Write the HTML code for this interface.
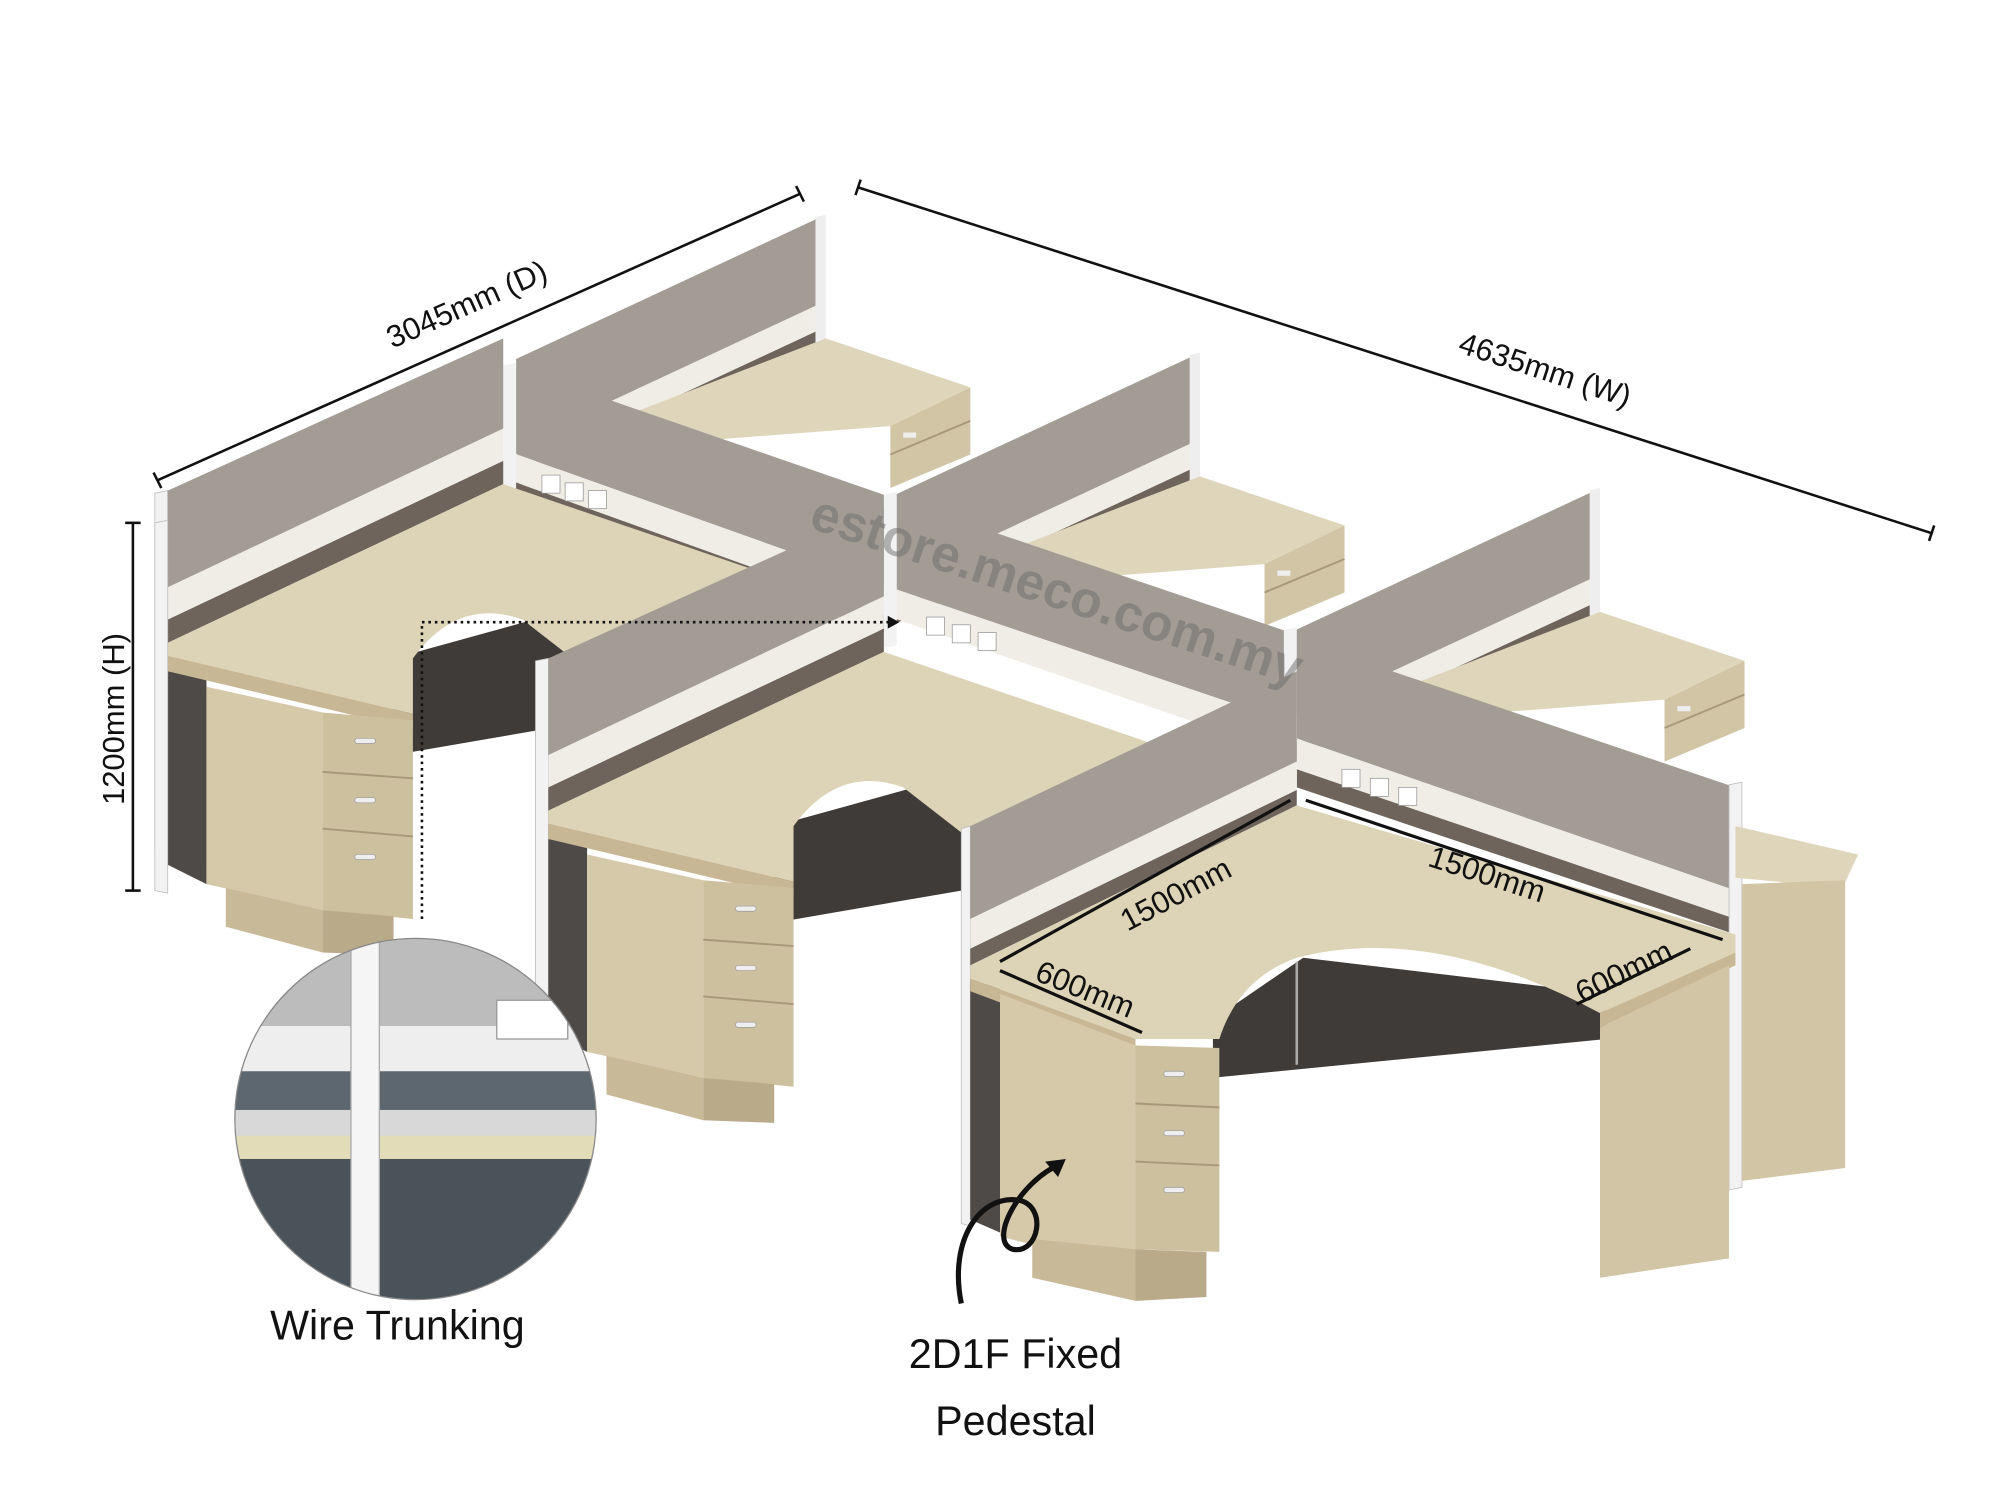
<!DOCTYPE html>
<html><head><meta charset="utf-8"><style>
html,body{margin:0;padding:0;background:#fff;}
svg{display:block;}
text{font-family:"Liberation Sans","DejaVu Sans",sans-serif;}
</style></head><body>
<svg width="2000" height="1487" viewBox="0 0 1550 1152" xmlns="http://www.w3.org/2000/svg">
<defs>
<g id="back">
  <polygon points="400,278 636,168 636,235 400,345" fill="#a39c95"/>
  <polygon points="400,345 636,235 636,255 400,365" fill="#efede6"/>
  <polygon points="400,365 636,255 636,268 400,378" fill="#6e645c"/>
  <polygon points="632,168 640,166 640,272 632,274" fill="#eeeeee"/>
  <polygon points="495,318 640,262 752,300 690,330 560,340" fill="#dfd5ba"/>
  <polygon points="690,330 752,300 752,352 690,378" fill="#d2c5a6"/>
  <line x1="690" y1="352" x2="752" y2="326" stroke="#a8987a" stroke-width="1.5"/>
  <rect x="700" y="335" width="10" height="4" fill="#eee"/>
</g>
<g id="front">
  <polygon points="415,512 425,510 425,792 415,790" fill="#f2f2f2" stroke="#bbb" stroke-width="0.6"/>
  <polygon points="425,510 685,392 685,462 425,585" fill="#a39c95"/>
  <polygon points="425,585 685,462 685,487 425,610" fill="#efede6"/>
  <polygon points="425,610 685,487 685,505 425,628" fill="#6e645c"/>
  <polygon points="425,650 455,655 455,815 425,800" fill="#4d4a47"/>
  <polygon points="600,640 745,600 745,690 600,715" fill="#3f3b38"/>
  <path d="M425,638 L425,628 L685,505 L890,575 L745,645 L700,610 Q650,592 615,640 L615,683 Z" fill="#ddd3b6"/>
  <path d="M425,638 L615,683 L615,695 L425,650 Z" fill="#c7b794"/>
  <polygon points="455,662 545,682 545,835 455,815" fill="#d6c9aa"/>
  <polygon points="545,682 615,688 615,842 545,835" fill="#cdc09f"/>
  <line x1="545" y1="728" x2="615" y2="733" stroke="#a8987a" stroke-width="1.5"/>
  <line x1="545" y1="772" x2="615" y2="778" stroke="#a8987a" stroke-width="1.5"/>
  <rect x="570" y="702" width="16" height="4" rx="2" fill="#eee" stroke="#999" stroke-width="0.5"/>
  <rect x="570" y="748" width="16" height="4" rx="2" fill="#eee" stroke="#999" stroke-width="0.5"/>
  <rect x="570" y="792" width="16" height="4" rx="2" fill="#eee" stroke="#999" stroke-width="0.5"/>
  <polygon points="470,818 545,835 545,868 470,848" fill="#c8b999"/>
  <polygon points="545,835 600,840 600,870 545,868" fill="#b9aa8a"/>
</g>
</defs>

<!-- back row -->
<use href="#back"/>
<use href="#back" transform="translate(290,107)"/>
<use href="#back" transform="translate(600,212)"/>

<!-- spine panels (W direction) -->
<polygon points="395,283 690,385 690,455 395,350" fill="#a39c95"/>
<polygon points="395,350 690,455 690,478 395,372" fill="#efede6"/>
<polygon points="395,372 690,478 690,492 395,386" fill="#6e645c"/>
<polygon points="690,385 1000,490 1000,560 690,455" fill="#a39c95"/>
<polygon points="690,455 1000,560 1000,585 690,478" fill="#efede6"/>
<polygon points="1005,495 1345,610 1345,690 1005,572" fill="#a39c95"/>
<polygon points="1005,572 1345,690 1345,712 1005,596" fill="#efede6"/>
<polygon points="1005,596 1345,712 1345,724 1005,610" fill="#6e645c"/>
<polygon points="1340,608 1350,606 1350,920 1340,922" fill="#f2f2f2" stroke="#bbb" stroke-width="0.6"/>
<polygon points="995,488 1005,486 1005,612 995,614" fill="#f2f2f2"/>
<polygon points="685,383 695,381 695,500 685,502" fill="#f2f2f2"/>
<polygon points="390,283 400,281 400,390 390,392" fill="#f2f2f2"/>

<!-- back-right desk extension -->
<polygon points="1345,640 1440,662 1428,688 1345,680" fill="#dfd5ba"/>
<polygon points="1350,685 1430,682 1430,905 1350,915" fill="#d2c5a6"/>

<!-- left + middle front cubicles -->
<use href="#front" transform="translate(-295,-130)"/>
<polygon points="120,405 130,403 130,692 120,690" fill="#f2f2f2" stroke="#bbb" stroke-width="0.6"/>
<use href="#front"/>

<!-- front-right cubicle (custom) -->
<polygon points="745,642 752,640 752,950 745,948" fill="#f2f2f2" stroke="#bbb" stroke-width="0.6"/>
<polygon points="752,640 1005,520 1005,590 752,712" fill="#a39c95"/>
<polygon points="752,712 1005,590 1005,612 752,735" fill="#efede6"/>
<polygon points="752,735 1005,612 1005,624 752,748" fill="#6e645c"/>
<polygon points="752,760 775,765 775,955 752,945" fill="#4d4a47"/>
<polygon points="940,790 1010,742 1245,770 1245,805 940,835" fill="#3f3b38"/>
<line x1="1005" y1="745" x2="1005" y2="825" stroke="#aaa" stroke-width="2"/>
<path d="M752,758 L752,748 L1005,624 L1345,724 L1345,738 L1240,785 Q1110,715 1005,742 Q960,758 945,805 L880,805 Z" fill="#ddd3b6"/>
<polygon points="752,758 880,805 880,816 752,768" fill="#c7b794"/>
<polygon points="1240,785 1345,738 1345,748 1240,796" fill="#c7b794"/>
<polygon points="775,770 880,810 880,985 775,958" fill="#d6c9aa"/>
<polygon points="880,810 945,812 945,970 880,968" fill="#cdc09f"/>
<line x1="880" y1="855" x2="945" y2="858" stroke="#a8987a" stroke-width="1.5"/>
<line x1="880" y1="900" x2="945" y2="903" stroke="#a8987a" stroke-width="1.5"/>
<rect x="902" y="830" width="16" height="4" rx="2" fill="#eee" stroke="#999" stroke-width="0.5"/>
<rect x="902" y="876" width="16" height="4" rx="2" fill="#eee" stroke="#999" stroke-width="0.5"/>
<rect x="902" y="920" width="16" height="4" rx="2" fill="#eee" stroke="#999" stroke-width="0.5"/>
<polygon points="800,960 880,968 880,1008 800,990" fill="#c8b999"/>
<polygon points="880,968 935,970 935,1005 880,1008" fill="#b9aa8a"/>
<polygon points="1240,796 1340,748 1340,975 1240,990" fill="#d2c5a6"/>

<!-- sockets -->
<g fill="#fff" stroke="#999" stroke-width="0.6">
<rect x="420" y="368" width="14" height="14"/><rect x="438" y="374" width="14" height="14"/><rect x="456" y="380" width="14" height="14"/>
<rect x="718" y="478" width="14" height="14"/><rect x="738" y="484" width="14" height="14"/><rect x="758" y="490" width="14" height="14"/>
<rect x="1040" y="596" width="14" height="14"/><rect x="1062" y="603" width="14" height="14"/><rect x="1084" y="610" width="14" height="14"/>
</g>

<!-- watermark -->
<text x="815" y="470" font-size="40" font-weight="bold" fill="#6b6b6b" fill-opacity="0.5" text-anchor="middle" transform="rotate(18 815 470)">estore.meco.com.my</text>

<!-- dimension lines -->
<g stroke="#111" stroke-width="2">
<line x1="122" y1="372" x2="620" y2="150"/><line x1="119" y1="366" x2="125" y2="378"/><line x1="617" y1="144" x2="623" y2="156"/>
<line x1="665" y1="145" x2="1497" y2="413"/><line x1="667" y1="139" x2="663" y2="151"/><line x1="1499" y1="407" x2="1495" y2="419"/>
<line x1="103" y1="405" x2="103" y2="690"/><line x1="97" y1="405" x2="109" y2="405"/><line x1="97" y1="690" x2="109" y2="690"/>
</g>
<text x="365" y="243" font-size="24" fill="#111" text-anchor="middle" transform="rotate(-24 365 243)">3045mm (D)</text>
<text x="1195" y="294" font-size="24" fill="#111" text-anchor="middle" transform="rotate(18 1195 294)">4635mm (W)</text>
<text x="96" y="557" font-size="24" fill="#111" text-anchor="middle" transform="rotate(-90 96 557)">1200mm (H)</text>

<!-- desk dims -->
<g stroke="#111" stroke-width="2.5">
<line x1="775" y1="745" x2="1000" y2="620"/><line x1="1012" y1="620" x2="1335" y2="728"/>
<line x1="775" y1="752" x2="885" y2="800"/><line x1="1222" y1="778" x2="1310" y2="735"/>
</g>
<text x="915" y="700" font-size="24" fill="#111" text-anchor="middle" transform="rotate(-28 915 700)">1500mm</text>
<text x="1150" y="685" font-size="24" fill="#111" text-anchor="middle" transform="rotate(18 1150 685)">1500mm</text>
<text x="838" y="774" font-size="24" fill="#111" text-anchor="middle" transform="rotate(22 838 774)">600mm</text>
<text x="1262" y="760" font-size="24" fill="#111" text-anchor="middle" transform="rotate(-26 1262 760)">600mm</text>

<!-- dotted leader -->
<polyline points="327,712 327,482 690,482" fill="none" stroke="#111" stroke-width="2" stroke-dasharray="2,3"/>
<polygon points="697,482 688,477 688,487" fill="#111"/>

<!-- inset circle -->
<clipPath id="cc"><circle cx="322" cy="867" r="140"/></clipPath>
<g clip-path="url(#cc)">
<rect x="180" y="725" width="290" height="290" fill="#d8d8d8"/>
<rect x="180" y="725" width="290" height="70" fill="#bcbcbc"/>
<rect x="180" y="795" width="290" height="40" fill="#eeeeee"/>
<rect x="180" y="830" width="290" height="30" fill="#5d6770"/>
<rect x="180" y="880" width="290" height="18" fill="#e3dcb8"/>
<rect x="180" y="898" width="290" height="120" fill="#4a525a"/>
<rect x="272" y="725" width="22" height="290" fill="#f5f5f5" stroke="#aaa"/>
<rect x="385" y="775" width="55" height="30" fill="#fff" stroke="#999"/>
</g>
<circle cx="322" cy="867" r="140" fill="none" stroke="#888" stroke-width="1"/>
<text x="308" y="1038" font-size="32" fill="#111" text-anchor="middle">Wire Trunking</text>

<!-- pedestal label + arrow -->
<path d="M745,1010 C735,960 760,925 790,930 C812,935 805,972 785,968 C765,962 790,915 822,902" fill="none" stroke="#111" stroke-width="4"/>
<polygon points="826,898 810,900 820,912" fill="#111"/>
<text x="787" y="1060" font-size="32" fill="#111" text-anchor="middle">2D1F Fixed</text>
<text x="787" y="1112" font-size="32" fill="#111" text-anchor="middle">Pedestal</text>
</svg>
</body></html>
